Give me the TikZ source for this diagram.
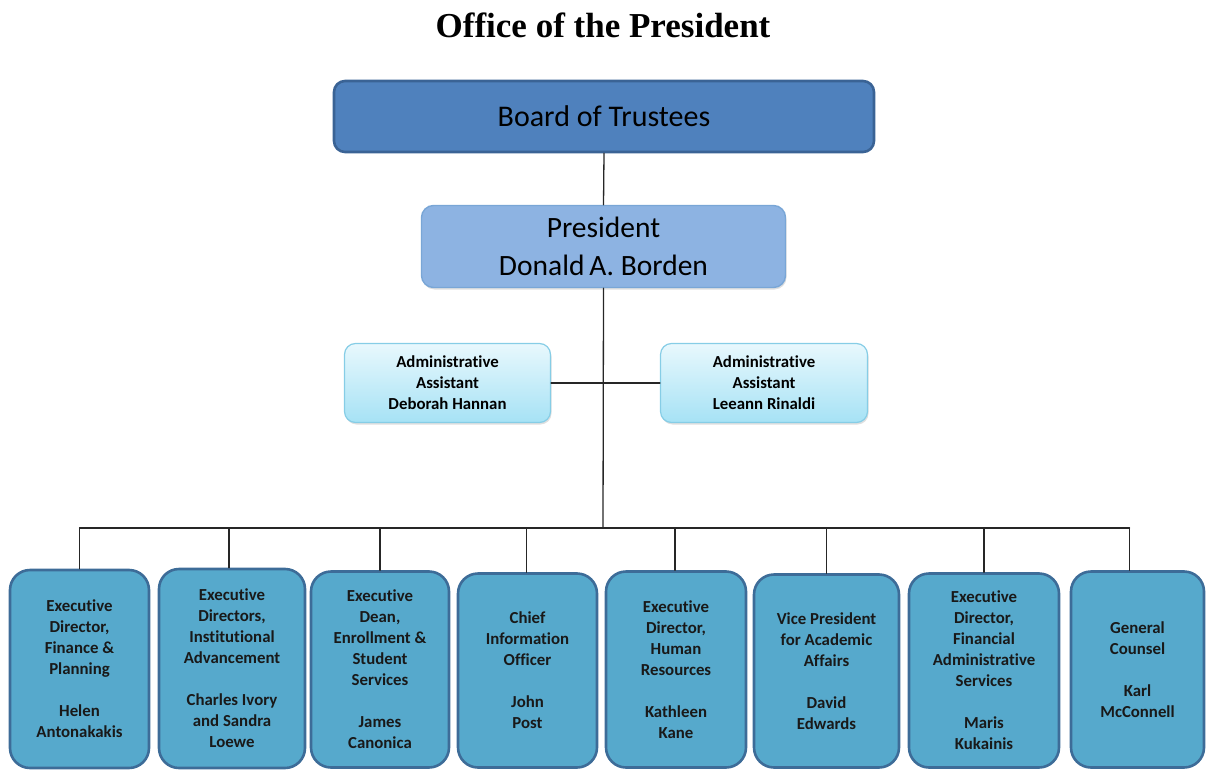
\documentclass[tikz,border=0pt]{standalone}
\usepackage{fontspec}
\setmainfont{Carlito}[Ligatures=NoCommon]
\newfontfamily\titlefont{Liberation Serif}
\usetikzlibrary{shadows}
\definecolor{OPBoard}{HTML}{4F81BD}
\definecolor{OPBoardEdge}{HTML}{3A6395}
\definecolor{OPPres}{HTML}{8DB3E2}
\definecolor{OPPresEdge}{HTML}{79A6D6}
\definecolor{OPAsstTop}{HTML}{E8F8FD}
\definecolor{OPAsstBot}{HTML}{A6E2F5}
\definecolor{OPAsstEdge}{HTML}{86CDE6}
\definecolor{OPUnit}{HTML}{56A9CC}
\definecolor{OPUnitEdge}{HTML}{3D6C98}

\begin{document}
\begin{tikzpicture}[x=1pt,y=-1pt,line cap=round,line join=round,
  link/.style={draw=black!85,line width=1.3pt},
  boardbox/.style={draw=OPBoardEdge,fill=OPBoard,line width=2.6pt,rounded corners=11pt,
    minimum width=540,minimum height=71,font=\fontsize{30}{38}\selectfont},
  presbox/.style={draw=OPPresEdge,fill=OPPres,line width=1.4pt,rounded corners=12pt,
    minimum width=364,minimum height=82,align=center,font=\fontsize{29.5}{38}\selectfont,
    drop shadow={shadow xshift=1pt,shadow yshift=-2pt,opacity=0.25}},
  asstbox/.style={draw=OPAsstEdge,top color=OPAsstTop,bottom color=OPAsstBot,line width=1.2pt,
    rounded corners=11pt,minimum height=79,align=center,font=\fontsize{16.8}{21}\selectfont\bfseries,
    drop shadow={shadow xshift=1pt,shadow yshift=-2pt,opacity=0.25}},
  unitbox/.style={draw=OPUnitEdge,fill=OPUnit,line width=2.6pt,rounded corners=20pt,
    align=center,font=\fontsize{16.8}{21}\selectfont\bfseries,text=black!90}]
  \useasboundingbox (0,0) rectangle (1206,770);

  % title and top of the chart
  \node[font=\titlefont\bfseries\fontsize{35}{40}\selectfont] (title) at (603,25) {Office of the President};
  \node[boardbox] (board) at (604,116.5) {Board of Trustees};
  \node[presbox] (pres) at (603.5,246.5) {President\\Donald\,A. Borden};

  % assistants on either side of the main line
  \node[asstbox,minimum width=206] (asstL) at (447.5,383) {Administrative\\Assistant\\Deborah Hannan};
  \node[asstbox,minimum width=207] (asstR) at (764,383) {Administrative\\Assistant\\Leeann Rinaldi};

  % the eight units reporting to the president
  \node[unitbox,minimum width=139,minimum height=198] (finance) at (79.5,669) {Executive\\Director,\\Finance \&\\Planning\\[21pt]Helen\\Antonakakis};
  \node[unitbox,minimum width=146,minimum height=199] (advance) at (232,668.5) {Executive\\Directors,\\Institutional\\Advancement\\[21pt]Charles Ivory\\and Sandra\\Loewe};
  \node[unitbox,minimum width=138,minimum height=196] (enroll) at (380,669.5) {Executive\\Dean,\\Enrollment \&\\Student\\Services\\[21pt]James\\Canonica};
  \node[unitbox,minimum width=139,minimum height=194] (cio) at (527.5,670.5) {Chief\\Information\\Officer\\[21pt]John\\Post};
  \node[unitbox,minimum width=140,minimum height=196] (hr) at (676,669.5) {Executive\\Director,\\Human\\Resources\\[21pt]Kathleen\\Kane};
  \node[unitbox,minimum width=145,minimum height=193] (vpaa) at (826.5,671) {Vice President\\for Academic\\Affairs\\[21pt]David\\Edwards};
  \node[unitbox,minimum width=150,minimum height=194] (finadmin) at (984,670.5) {Executive\\Director,\\Financial\\Administrative\\Services\\[21pt]Maris\\Kukainis};
  \node[unitbox,minimum width=133,minimum height=196] (counsel) at (1137.5,669.5) {General\\Counsel\\[21pt]Karl\\McConnell};

  % connectors
  \coordinate (bus) at (603,528);
  \draw[link] (board.south) -- (pres.north);
  \draw[link] (pres.south) -- (bus);
  \draw[link] (asstL.east) -- (asstR.west);
  \draw[link] (finance.north |- bus) -- ([xshift=-8pt]counsel.north |- bus);
  \draw[link] (finance.north) -- (finance.north |- bus);
  \draw[link] ([xshift=-3pt]advance.north) -- ([xshift=-3pt]advance.north |- bus);
  \draw[link] (enroll.north) -- (enroll.north |- bus);
  \draw[link] ([xshift=-1pt]cio.north) -- ([xshift=-1pt]cio.north |- bus);
  \draw[link] ([xshift=-1pt]hr.north) -- ([xshift=-1pt]hr.north |- bus);
  \draw[link] (vpaa.north) -- (vpaa.north |- bus);
  \draw[link] (finadmin.north) -- (finadmin.north |- bus);
  \draw[link] ([xshift=-8pt]counsel.north) -- ([xshift=-8pt]counsel.north |- bus);
\end{tikzpicture}
\end{document}
